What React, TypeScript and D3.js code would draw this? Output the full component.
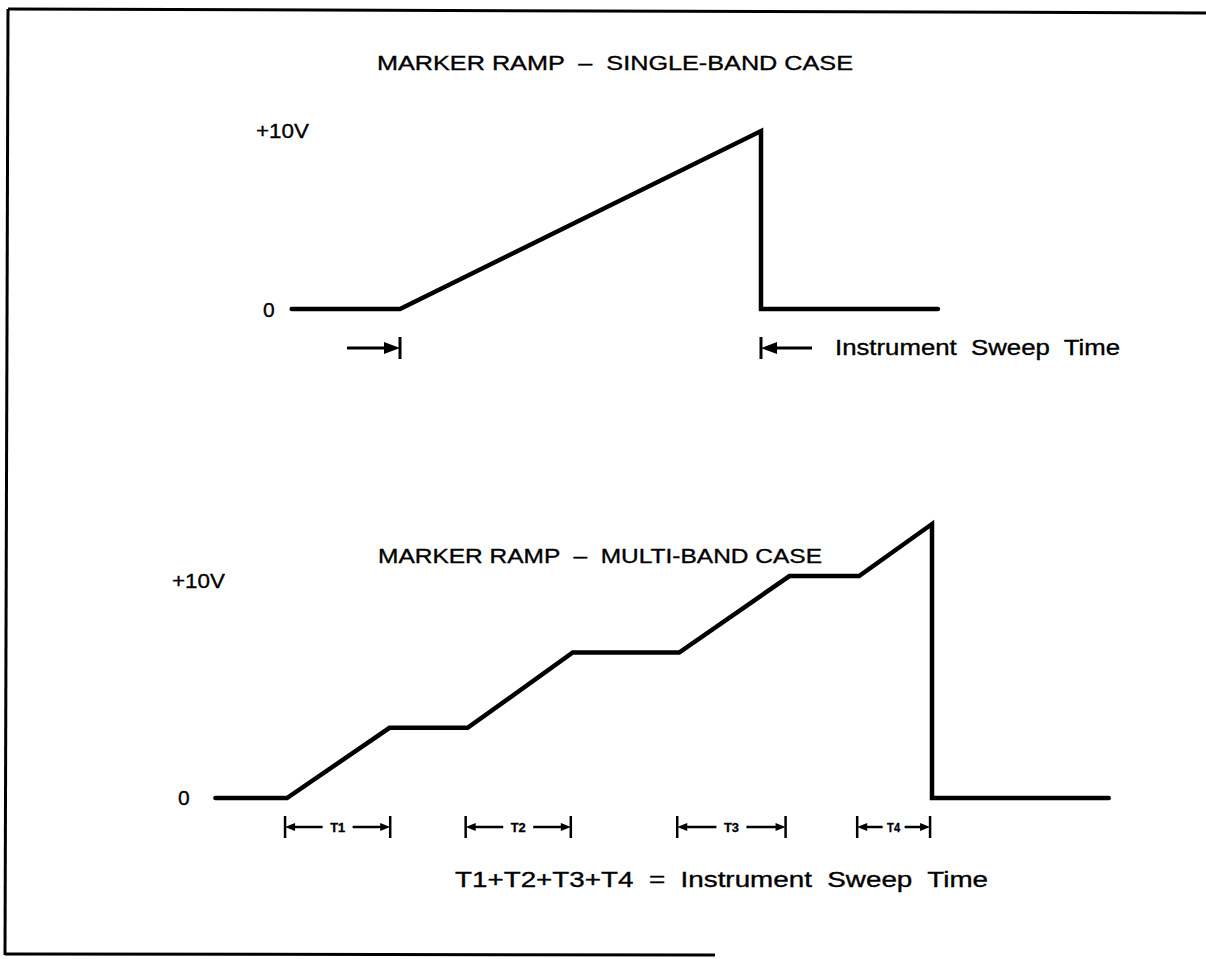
import React from "react";
import * as d3 from "d3";

// ---------- data ----------
// Single-band case: time (sweep = 0..10) and marker-ramp voltage
const SINGLE_TIME = [-3.0, 0, 10, 10, 14.9];
const SINGLE_VOLTS = [0, 0, 10, 0, 0];

// Multi-band case: four bands, each ramps then holds
const MULTI_TIME = [-1.11, 0, 1.59, 2.8, 4.43, 6.08, 7.79, 8.87, 10, 10, 12.74];
const MULTI_VOLTS = [0, 0, 2.56, 2.56, 5.31, 5.31, 8.1, 8.1, 10, 0, 0];

const BAND_LABELS = ["T1", "T2", "T3", "T4"];
const BAND_START = [-0.03, 2.77, 6.05, 8.84];
const BAND_END = [1.6, 4.4, 7.73, 9.97];

const Y_LABELS = ["0", "+10V"];
const TITLE_SINGLE = "MARKER RAMP  \u2013  SINGLE-BAND CASE";
const TITLE_MULTI = "MARKER RAMP  \u2013  MULTI-BAND CASE";
const SWEEP_NOTE = "Instrument  Sweep  Time";
const SUM_NOTE = "T1+T2+T3+T4  =  Instrument  Sweep  Time";

// ---------- layout ----------
const W = 1206;
const H = 959;
const FONT = "'Liberation Sans', Arial, sans-serif";

const xTop = d3.scaleLinear().domain([0, 10]).range([400, 761]);
const yTop = d3.scaleLinear().domain([0, 10]).range([309, 131]);
const xBot = d3.scaleLinear().domain([0, 10]).range([287, 932]);
const yBot = d3.scaleLinear().domain([0, 10]).range([798, 524]);

function Label({ x, y, text, size, len, anchor = "start", weight = "normal" }: any) {
  return (
    <text
      x={x}
      y={y + size * 0.36}
      fontSize={size}
      fontFamily={FONT}
      fontWeight={weight}
      textAnchor={anchor}
      textLength={len}
      lengthAdjust={len ? "spacingAndGlyphs" : undefined}
      style={{ whiteSpace: "pre" }}
      fill="#000"
      stroke="#000"
      strokeWidth={0.35}
    >
      {text}
    </text>
  );
}

function arrowHead(tipX: number, y: number, dir: number, len: number, half: number) {
  // dir = +1 points right, -1 points left
  const bx = tipX - dir * len;
  return `M${tipX},${y}L${bx},${y - half}L${bx},${y + half}Z`;
}

export default function App() {
  const line = d3.line<[number, number]>();

  const topPts: [number, number][] = SINGLE_TIME.map((t, i) => [xTop(t), yTop(SINGLE_VOLTS[i])]);
  const botPts: [number, number][] = MULTI_TIME.map((t, i) => [xBot(t), yBot(MULTI_VOLTS[i])]);

  const arrowY = 348;
  const bandY = 827;

  return (
    <svg
      width={W}
      height={H}
      viewBox={`0 0 ${W} ${H}`}
      style={{ position: "absolute", left: 0, top: 0, background: "#fff", display: "block" }}
    >
      <rect x={0} y={0} width={W} height={H} fill="#fff" />

      {/* frame (scanned, slightly skewed) */}
      <g stroke="#000" strokeWidth={3} fill="none">
        <line x1={8} y1={9} x2={W} y2={13} />
        <line x1={8} y1={9} x2={5} y2={955} />
        <line x1={5} y1={954} x2={715} y2={955} />
      </g>

      {/* ---------- single-band ---------- */}
      <Label x={615} y={62} text={TITLE_SINGLE} size={21} len={476} anchor="middle" />
      <Label x={256} y={130} text={Y_LABELS[1]} size={21} len={53} />
      <Label x={263} y={309} text={Y_LABELS[0]} size={21} />

      <path
        d={line(topPts) || ""}
        fill="none"
        stroke="#000"
        strokeWidth={4.5}
        strokeLinejoin="miter"
        strokeLinecap="round"
      />

      {/* delay arrow -> | */}
      <g stroke="#000" strokeWidth={3} fill="#000">
        <line x1={347} y1={arrowY} x2={xTop(0) - 12} y2={arrowY} />
        <path d={arrowHead(xTop(0), arrowY, 1, 16, 6)} stroke="none" />
        <line x1={xTop(0)} y1={arrowY - 11} x2={xTop(0)} y2={arrowY + 11} />
      </g>
      {/* sweep end | <- */}
      <g stroke="#000" strokeWidth={3} fill="#000">
        <line x1={xTop(10)} y1={arrowY - 11} x2={xTop(10)} y2={arrowY + 11} />
        <path d={arrowHead(xTop(10), arrowY, -1, 16, 6)} stroke="none" />
        <line x1={xTop(10) + 12} y1={arrowY} x2={812} y2={arrowY} />
      </g>
      <Label x={835} y={arrowY - 1} text={SWEEP_NOTE} size={22} len={285} />

      {/* ---------- multi-band ---------- */}
      <Label x={600} y={555} text={TITLE_MULTI} size={21} len={444} anchor="middle" />
      <Label x={172} y={580} text={Y_LABELS[1]} size={21} len={53} />
      <Label x={178} y={797} text={Y_LABELS[0]} size={21} />

      <path
        d={line(botPts) || ""}
        fill="none"
        stroke="#000"
        strokeWidth={4.5}
        strokeLinejoin="miter"
        strokeLinecap="round"
      />

      {BAND_LABELS.map((lab, i) => {
        const x0 = xBot(BAND_START[i]);
        const x1 = xBot(BAND_END[i]);
        const xm = (x0 + x1) / 2;
        const gap = i === 3 ? 11 : 15;
        return (
          <g key={lab}>
            <g stroke="#000" strokeWidth={2.5} fill="#000">
              <line x1={x0} y1={bandY - 11} x2={x0} y2={bandY + 11} />
              <line x1={x1} y1={bandY - 11} x2={x1} y2={bandY + 11} />
              <line x1={x0 + 6} y1={bandY} x2={xm - gap} y2={bandY} />
              <line x1={xm + gap} y1={bandY} x2={x1 - 6} y2={bandY} />
              <path d={arrowHead(x0, bandY, -1, 10, 4)} stroke="none" />
              <path d={arrowHead(x1, bandY, 1, 10, 4)} stroke="none" />
            </g>
            <Label x={xm} y={bandY} text={lab} size={13} len={i === 3 ? 13 : 15} anchor="middle" weight="bold" />
          </g>
        );
      })}

      <Label x={455} y={879} text={SUM_NOTE} size={22} len={533} />
    </svg>
  );
}
